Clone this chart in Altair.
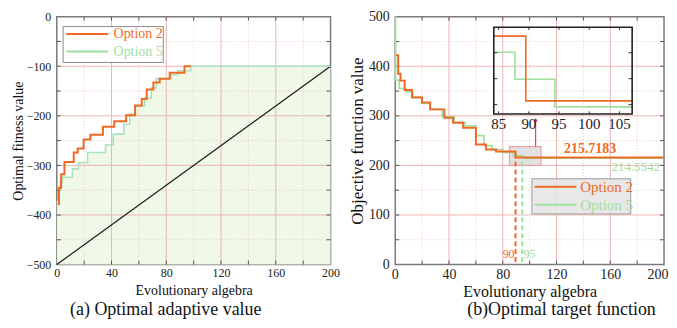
import altair as alt
import pandas as pd

FONT = "Liberation Serif"
ORANGE = "#EE6A24"
GREEN_R = "#9EDF9E"
GREEN_L = "#A9E2C2"
FILL_L = "#EEF7E4"
GRID_MAJ = "#EDB3B3"
GRID_MIN = "#F2C6C6"
ARROW = "#D0205E"

# ---------------- data: panel (a) ----------------
a_opt2_x = [0.7, 1.6, 3.2, 5.6, 12.4, 15.3, 19.6, 24.5, 33.7, 42.0, 50.7, 57.2, 62.1, 65.7, 70.6, 75.2, 82.5, 93.3, 98.0]
a_opt2_y = [-378, -345, -318, -293, -274, -266, -248, -238, -222, -211, -199, -179, -166, -147, -133, -125, -113, -100, -100]
a_opt5_x = [0.0, 1.5, 2.5, 4.0, 11.4, 15.8, 22.5, 35.6, 41.2, 49.0, 53.3, 57.4, 64.2, 69.0, 72.7, 83.6, 88.5, 98.0, 200.0]
a_opt5_y = [-372, -345, -334, -324, -307, -294, -274, -259, -237, -217, -197, -180, -164, -144, -125, -117, -109, -100, -100]
a_diag_x = [0, 200]
a_diag_y = [-500, -100]
a_x_ticks = [0, 40, 80, 120, 160, 200]
a_y_ticks = [-500, -400, -300, -200, -100, 0]
a_x_major = [40, 80, 120, 160]
a_x_minor = [20, 60, 100, 140, 180]
a_y_major = [-400, -300, -200, -100]
a_y_minor = [-450, -350, -250, -150, -50]
a_legend_box = [4.6, 77.8, -92.4, -20.0]          # x, x2, y, y2
a_legend_names = ["Option 2", "Option 5"]
a_legend_y = [-34.8, -70.3]
a_legend_line_x = [7.0, 37.6]
a_legend_text_x = 41.5

# ---------------- data: panel (b) ----------------
b_opt2_x = [0.5, 2.2, 3.9, 7.0, 12.5, 19.9, 26.0, 36.5, 43.0, 50.5, 60.0, 67.5, 75.0, 89.5, 200.0]
b_opt2_y = [422, 385, 371, 352, 337, 327, 313, 296, 286, 276, 242, 232, 228, 215.7183, 215.7183]
b_opt5_x = [0.0, 0.3, 3.0, 8.0, 13.0, 20.0, 26.0, 35.0, 44.0, 52.0, 60.0, 66.0, 72.0, 80.0, 88.0, 94.5, 200.0]
b_opt5_y = [500, 372, 355, 348, 338, 325, 313, 298, 287, 280, 260, 240, 232, 226, 220, 214.5542, 214.5542]
b_x_ticks = [0, 40, 80, 120, 160, 200]
b_y_ticks = [0, 100, 200, 300, 400, 500]
b_x_major = [40, 80, 120, 160]
b_x_minor = [20, 60, 100, 140, 180]
b_y_major = [100, 200, 300, 400]
b_y_minor = [50, 150, 250, 350, 450]
b_zoom_box = [85.0, 108.5, 200.0, 238.0]
b_dash_x = [89.5, 94.5]
b_dash_y_top = [215.7, 214.6]
b_dash_y_bot = [5.0, 5.0]
b_dash_series = ["Option 2", "Option 5"]
b_conv_labels = ["90", "95"]
b_conv_label_x = [88.8, 95.4]
b_conv_label_y = 22
b_final_labels = ["215.7183", "214.5542"]
b_final_x = [145.0, 197.0]
b_final_y = [234.0, 197.0]
b_arrow_x = 104.5
b_arrow_y = [238.0, 292.0]
b_legend_box = [101.7, 175.2, 102.0, 173.0]
b_legend_names = ["Option 2", "Option 5"]
b_legend_y = [157.0, 120.5]
b_legend_line_x = [103.7, 134.8]
b_legend_text_x = 137.7

# inset (zoom of 85..107)
in_x_domain = [84.2, 107.1]
in_y_domain = [213.2, 229.9]
in_opt2_x = [84.2, 89.5, 107.1]
in_opt2_y = [228.2, 215.7183, 215.7183]
in_opt5_x = [84.2, 87.7, 94.3, 107.1]
in_opt5_y = [225.1, 219.9, 214.5542, 214.5542]
in_x_ticks = [85, 90, 95, 100, 105]
in_y_ticks = [215, 220, 225]

# ---------------- sizes ----------------
WA, HA = 275, 249
WB, HB = 270, 249

def df(**cols):
    return pd.DataFrame(cols)

def grid_layers(X, Y, x_major, x_minor, y_major, y_minor):
    maj_x = alt.Chart(df(v=x_major)).mark_rule(color=GRID_MAJ, strokeWidth=1).encode(x=X("v"))
    min_x = alt.Chart(df(v=x_minor)).mark_rule(color=GRID_MIN, strokeWidth=1, strokeDash=[1, 2]).encode(x=X("v"))
    maj_y = alt.Chart(df(v=y_major)).mark_rule(color=GRID_MAJ, strokeWidth=1).encode(y=Y("v"))
    min_y = alt.Chart(df(v=y_minor)).mark_rule(color=GRID_MIN, strokeWidth=1, strokeDash=[1, 2]).encode(y=Y("v"))
    return [min_x, min_y, maj_x, maj_y]

def tick_layers(X, Y, xvals, yvals, W, H, L=4):
    bot = alt.Chart(df(v=xvals)).mark_rule(color="#555").encode(x=X("v"), y=alt.value(H), y2=alt.value(H - L))
    top = alt.Chart(df(v=xvals)).mark_rule(color="#555").encode(x=X("v"), y=alt.value(0), y2=alt.value(L))
    lef = alt.Chart(df(v=yvals)).mark_rule(color="#555").encode(y=Y("v"), x=alt.value(0), x2=alt.value(L))
    rig = alt.Chart(df(v=yvals)).mark_rule(color="#555").encode(y=Y("v"), x=alt.value(W), x2=alt.value(W - L))
    return [bot, top, lef, rig]

def make_xy(xs, ys):
    def X(f):
        return alt.X(f, type="quantitative", scale=xs)
    def Y(f):
        return alt.Y(f, type="quantitative", scale=ys)
    return X, Y

AX = dict(labelFont=FONT, titleFont=FONT, labelColor="#222", titleColor="#111", titleFontWeight="normal",
          grid=False, domain=False, ticks=False, labelFlush=False)

# ================= panel (a) =================
xa = alt.Scale(domain=[0, 200], nice=False, zero=False)
ya = alt.Scale(domain=[-500, 0], nice=False, zero=False)
XA, YA = make_xy(xa, ya)

axes_a = alt.Chart(df(x=[0, 200], y=[-500, 0])).mark_point(opacity=0).encode(
    x=alt.X("x:Q", scale=xa, axis=alt.Axis(values=a_x_ticks, title="Evolutionary algebra",
            labelFontSize=12, titleFontSize=14, labelPadding=3, titlePadding=4,
            minExtent=15, maxExtent=15, **AX)),
    y=alt.Y("y:Q", scale=ya, axis=alt.Axis(values=a_y_ticks, title="Optimal fitness value",
            labelFontSize=12, titleFontSize=14, labelPadding=6, titlePadding=3,
            minExtent=28, maxExtent=28, **AX)),
)

area_a = alt.Chart(df(x=a_opt5_x, y=a_opt5_y, b=[-500] * len(a_opt5_x))).mark_area(
    interpolate="step-after", color=FILL_L, opacity=0.9).encode(x=XA("x"), y=YA("y"), y2="b:Q")

diag_a = alt.Chart(df(x=a_diag_x, y=a_diag_y)).mark_line(color="#1a1a1a", strokeWidth=1.2).encode(
    x=XA("x"), y=YA("y"))

opt5_a = alt.Chart(df(x=a_opt5_x, y=a_opt5_y)).mark_line(
    interpolate="step-after", color=GREEN_L, strokeWidth=1.6).encode(x=XA("x"), y=YA("y"))

opt2_a = alt.Chart(df(x=a_opt2_x, y=a_opt2_y)).mark_line(
    interpolate="step-after", color=ORANGE, strokeWidth=2).encode(x=XA("x"), y=YA("y"))

leg_box_a = alt.Chart(df(x=[a_legend_box[0]], x2=[a_legend_box[1]], y=[a_legend_box[2]], y2=[a_legend_box[3]])).mark_rect(
    fill="white", stroke="#888", strokeWidth=1).encode(x=XA("x"), x2="x2:Q", y=YA("y"), y2="y2:Q")

leg_df_a = df(name=a_legend_names, y=a_legend_y,
              x1=[a_legend_line_x[0]] * 2, x2=[a_legend_line_x[1]] * 2, tx=[a_legend_text_x] * 2)
leg_color_a = alt.Color("name:N", scale=alt.Scale(domain=a_legend_names, range=[ORANGE, GREEN_R]), legend=None)
leg_lines_a = alt.Chart(leg_df_a).mark_rule(strokeWidth=2).encode(
    x=XA("x1"), x2="x2:Q", y=YA("y"), color=leg_color_a)
leg_text_a = alt.Chart(leg_df_a).mark_text(align="left", baseline="middle", font=FONT, fontSize=14).encode(
    x=XA("tx"), y=YA("y"), text="name:N", color=leg_color_a)

panel_a = alt.layer(
    axes_a, area_a,
    *grid_layers(XA, YA, a_x_major, a_x_minor, a_y_major, a_y_minor),
    *tick_layers(XA, YA, list(range(20, 200, 20)), list(range(-450, 0, 50)), WA, HA),
    diag_a, opt5_a, opt2_a, leg_box_a, leg_lines_a, leg_text_a,
).properties(
    width=WA, height=HA,
    title=alt.Title("(a) Optimal adaptive value", orient="bottom", font=FONT, fontSize=18,
                    fontWeight="normal", color="#111", frame="group", anchor="middle", dx=-28, offset=4),
)

# ================= panel (b) =================
xb = alt.Scale(domain=[0, 200], nice=False, zero=False)
yb = alt.Scale(domain=[0, 500], nice=False, zero=False)
XB, YB = make_xy(xb, yb)

axes_b = alt.Chart(df(x=[0, 200], y=[0, 500])).mark_point(opacity=0).encode(
    x=alt.X("x:Q", scale=xb, axis=alt.Axis(values=b_x_ticks, title="Evolutionary algebra",
            labelFontSize=14, titleFontSize=16, labelPadding=3, titlePadding=2,
            minExtent=17, maxExtent=17, **{**AX, "labelFlush": True}, labelFlushOffset=4)),
    y=alt.Y("y:Q", scale=yb, axis=alt.Axis(values=b_y_ticks, title="Objective function value",
            labelFontSize=14, titleFontSize=17, labelPadding=6, titlePadding=2,
            minExtent=27, maxExtent=27, **AX)),
)

zoom_box = alt.Chart(df(x=[b_zoom_box[0]], x2=[b_zoom_box[1]], y=[b_zoom_box[2]], y2=[b_zoom_box[3]])).mark_rect(
    fill="#D6D6D6", fillOpacity=0.7, stroke="#F0A0A0", strokeWidth=1.2).encode(
    x=XB("x"), x2="x2:Q", y=YB("y"), y2="y2:Q")

dash_color = alt.Color("s:N", scale=alt.Scale(domain=b_dash_series, range=[ORANGE, GREEN_R]), legend=None)
dash_b = alt.Chart(df(x=b_dash_x, y=b_dash_y_bot, y2=b_dash_y_top, s=b_dash_series)).mark_rule(
    strokeWidth=2, strokeDash=[5, 3]).encode(x=XB("x"), y=YB("y"), y2="y2:Q", color=dash_color)

opt5_b = alt.Chart(df(x=b_opt5_x, y=b_opt5_y)).mark_line(
    interpolate="step-after", color=GREEN_R, strokeWidth=1.6).encode(x=XB("x"), y=YB("y"))
opt2_b = alt.Chart(df(x=b_opt2_x, y=b_opt2_y)).mark_line(
    interpolate="step-after", color=ORANGE, strokeWidth=2).encode(x=XB("x"), y=YB("y"))

conv_l = alt.Chart(df(t=[b_conv_labels[0]], x=[b_conv_label_x[0]], y=[b_conv_label_y])).mark_text(
    align="right", baseline="middle", font=FONT, fontSize=12, color=ORANGE).encode(
    x=XB("x"), y=YB("y"), text="t:N")
conv_r = alt.Chart(df(t=[b_conv_labels[1]], x=[b_conv_label_x[1]], y=[b_conv_label_y])).mark_text(
    align="left", baseline="middle", font=FONT, fontSize=12, color=GREEN_R).encode(
    x=XB("x"), y=YB("y"), text="t:N")

fin_1 = alt.Chart(df(t=[b_final_labels[0]], x=[b_final_x[0]], y=[b_final_y[0]])).mark_text(
    align="center", baseline="middle", font=FONT, fontSize=14, fontWeight="bold", color=ORANGE).encode(
    x=XB("x"), y=YB("y"), text="t:N")
fin_2 = alt.Chart(df(t=[b_final_labels[1]], x=[b_final_x[1]], y=[b_final_y[1]])).mark_text(
    align="right", baseline="middle", font=FONT, fontSize=13, color=GREEN_R).encode(
    x=XB("x"), y=YB("y"), text="t:N")

arrow_line = alt.Chart(df(x=[b_arrow_x], y=[b_arrow_y[0]], y2=[b_arrow_y[1]])).mark_rule(
    color=ARROW, strokeWidth=1).encode(x=XB("x"), y=YB("y"), y2="y2:Q")
arrow_head = alt.Chart(df(x=[b_arrow_x], y=[b_arrow_y[1]])).mark_point(
    shape="triangle-up", filled=True, size=18, color=ARROW, opacity=1).encode(x=XB("x"), y=YB("y"))

leg_box_b = alt.Chart(df(x=[b_legend_box[0]], x2=[b_legend_box[1]], y=[b_legend_box[2]], y2=[b_legend_box[3]])).mark_rect(
    fill="#E4E4E4", fillOpacity=0.85, stroke="#999", strokeWidth=1).encode(
    x=XB("x"), x2="x2:Q", y=YB("y"), y2="y2:Q")
leg_df_b = df(name=b_legend_names, y=b_legend_y,
              x1=[b_legend_line_x[0]] * 2, x2=[b_legend_line_x[1]] * 2, tx=[b_legend_text_x] * 2)
leg_color_b = alt.Color("name:N", scale=alt.Scale(domain=b_legend_names, range=[ORANGE, GREEN_R]), legend=None)
leg_lines_b = alt.Chart(leg_df_b).mark_rule(strokeWidth=2).encode(
    x=XB("x1"), x2="x2:Q", y=YB("y"), color=leg_color_b)
leg_text_b = alt.Chart(leg_df_b).mark_text(align="left", baseline="middle", font=FONT, fontSize=15).encode(
    x=XB("tx"), y=YB("y"), text="name:N", color=leg_color_b)

main_b = alt.layer(
    axes_b,
    *grid_layers(XB, YB, b_x_major, b_x_minor, b_y_major, b_y_minor),
    *tick_layers(XB, YB, list(range(20, 200, 20)), list(range(50, 500, 50)), WB, HB),
    zoom_box, dash_b, opt5_b, opt2_b, conv_l, conv_r, fin_1, fin_2,
    arrow_line, arrow_head, leg_box_b, leg_lines_b, leg_text_b,
)

# inset with its own scales, placed by pixel range inside panel (b)
xi = alt.Scale(domain=in_x_domain, range=[99.0, 238.0], nice=False, zero=False)
yi = alt.Scale(domain=in_y_domain, range=[97.7, 10.7], nice=False, zero=False)
def XI(f):
    return alt.X(f, type="quantitative", scale=xi, axis=None)
def YI(f):
    return alt.Y(f, type="quantitative", scale=yi, axis=None)

in_frame = alt.Chart(df(x=[in_x_domain[0]], x2=[in_x_domain[1]], y=[in_y_domain[0]], y2=[in_y_domain[1]])).mark_rect(
    fill="white", fillOpacity=0, stroke="#222", strokeWidth=1.6).encode(
    x=XI("x"), x2="x2:Q", y=YI("y"), y2="y2:Q")
in_opt5 = alt.Chart(df(x=in_opt5_x, y=in_opt5_y)).mark_line(
    interpolate="step-after", color=GREEN_R, strokeWidth=1.6).encode(x=XI("x"), y=YI("y"))
in_opt2 = alt.Chart(df(x=in_opt2_x, y=in_opt2_y)).mark_line(
    interpolate="step-after", color=ORANGE, strokeWidth=1.6).encode(x=XI("x"), y=YI("y"))
in_labels = alt.Chart(df(v=in_x_ticks, y=[in_y_domain[0]] * len(in_x_ticks))).mark_text(
    baseline="top", dy=3, font=FONT, fontSize=15, color="#222").encode(
    x=XI("v"), y=YI("y"), text="v:Q")
in_xt_b = alt.Chart(df(v=in_x_ticks, y=[in_y_domain[0]] * 5, y2=[in_y_domain[0] + 0.5] * 5)).mark_rule(color="#333").encode(
    x=XI("v"), y=YI("y"), y2="y2:Q")
in_xt_t = alt.Chart(df(v=in_x_ticks, y=[in_y_domain[1]] * 5, y2=[in_y_domain[1] - 0.5] * 5)).mark_rule(color="#333").encode(
    x=XI("v"), y=YI("y"), y2="y2:Q")
in_yt_l = alt.Chart(df(v=in_y_ticks, x=[in_x_domain[0]] * 3, x2=[in_x_domain[0] + 0.6] * 3)).mark_rule(color="#333").encode(
    y=YI("v"), x=XI("x"), x2="x2:Q")
in_yt_r = alt.Chart(df(v=in_y_ticks, x=[in_x_domain[1]] * 3, x2=[in_x_domain[1] - 0.6] * 3)).mark_rule(color="#333").encode(
    y=YI("v"), x=XI("x"), x2="x2:Q")

inset = alt.layer(in_opt5, in_opt2, in_xt_b, in_xt_t, in_yt_l, in_yt_r, in_frame, in_labels)

panel_b = alt.layer(main_b, inset).resolve_scale(x="independent", y="independent").properties(
    width=WB, height=HB,
    title=alt.Title("(b)Optimal target function", orient="bottom", font=FONT, fontSize=18,
                    fontWeight="normal", color="#111", frame="group", anchor="middle", dx=32, offset=2),
)

chart = alt.hconcat(panel_a, panel_b, spacing=7).properties(
    padding={"left": 3, "top": 0, "right": 0, "bottom": 0}, background="white"
).configure_view(
    stroke="#7a7a7a", strokeWidth=1.5
).configure_axis(**AX)

chart.save("out.html", embed_options={"renderer": "svg", "actions": False})
